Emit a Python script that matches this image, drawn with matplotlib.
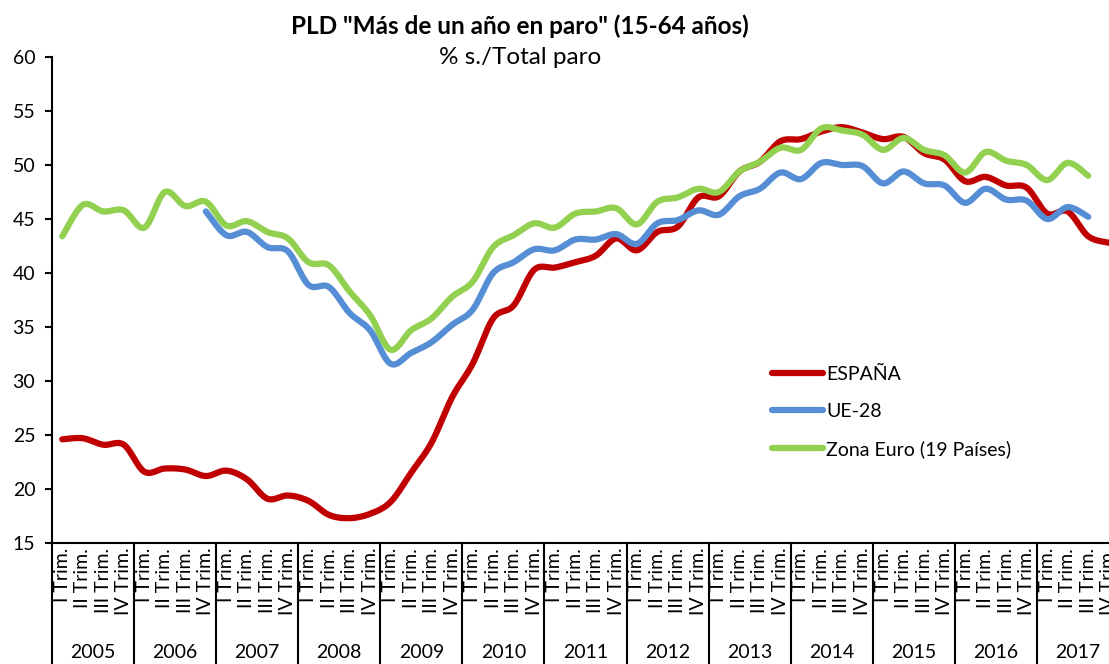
import numpy as np
import matplotlib.pyplot as plt
from matplotlib.transforms import blended_transform_factory

plt.rcParams['font.family'] = ['Lato', 'DejaVu Sans']

years = [str(y) for y in range(2005, 2018)]
quarters = ["I Trim.", "II Trim.", "III Trim.", "IV Trim."]

# % parados de larga duración sobre total parados, 2005 T1 .. 2017 T4
espana = [24.6, 24.7, 24.1, 24.1,
          21.6, 21.9, 21.8, 21.2,
          21.7, 20.9, 19.1, 19.4,
          18.9, 17.6, 17.3, 17.7,
          18.8, 21.5, 24.3, 28.5,
          31.6, 35.8, 37.0, 40.3,
          40.5, 41.0, 41.6, 43.2,
          42.1, 43.8, 44.3, 47.0,
          47.1, 49.4, 50.3, 52.2,
          52.4, 53.1, 53.5, 53.0,
          52.4, 52.6, 51.1, 50.5,
          48.5, 48.9, 48.1, 47.9,
          45.5, 45.7, 43.4, 42.8]
ue28 = [np.nan, np.nan, np.nan, np.nan,
        np.nan, np.nan, np.nan, 45.7,
        43.5, 43.8, 42.4, 42.0,
        38.9, 38.7, 36.3, 34.7,
        31.6, 32.6, 33.6, 35.2,
        36.6, 40.0, 41.0, 42.2,
        42.1, 43.1, 43.1, 43.6,
        42.7, 44.6, 44.9, 45.8,
        45.4, 47.1, 47.8, 49.3,
        48.7, 50.2, 50.0, 49.9,
        48.3, 49.4, 48.3, 48.1,
        46.5, 47.8, 46.8, 46.7,
        45.0, 46.1, 45.2, np.nan]
zona_euro = [43.4, 46.3, 45.7, 45.8,
             44.2, 47.5, 46.2, 46.6,
             44.4, 44.8, 43.8, 43.2,
             41.0, 40.7, 38.3, 36.1,
             32.9, 34.7, 35.8, 37.8,
             39.2, 42.4, 43.5, 44.6,
             44.2, 45.5, 45.7, 46.0,
             44.5, 46.6, 47.0, 47.8,
             47.5, 49.4, 50.3, 51.6,
             51.4, 53.4, 53.2, 52.8,
             51.4, 52.5, 51.4, 50.9,
             49.3, 51.2, 50.4, 50.0,
             48.6, 50.2, 49.0, np.nan]


def smooth_line(ys, steps=20):
    # curva suavizada tipo Excel (bezier con puntos de control catmull-rom)
    ys = np.asarray(ys, dtype=float)
    xs = np.arange(len(ys), dtype=float)
    m = ~np.isnan(ys)
    P = np.column_stack([xs[m], ys[m]])
    out = []
    for k in range(len(P) - 1):
        p0 = P[k - 1] if k > 0 else P[k]
        p1, p2 = P[k], P[k + 1]
        p3 = P[k + 2] if k + 2 < len(P) else P[k + 1]
        c1 = p1 + (p2 - p0) / 6
        c2 = p2 - (p3 - p1) / 6
        t = np.linspace(0, 1, steps, endpoint=(k == len(P) - 2))[:, None]
        out.append((1 - t)**3 * p1 + 3 * (1 - t)**2 * t * c1
                   + 3 * (1 - t) * t**2 * c2 + t**3 * p2)
    pts = np.vstack(out)
    return pts[:, 0], pts[:, 1]


W, H = 1109, 664
fig = plt.figure(figsize=(W / 100, H / 100), dpi=100)
ax = fig.add_axes([52 / W, 1 - 543 / H, 1067 / W, 486 / H])

series = [("ESPAÑA", espana, "#C00000"),
          ("UE-28", ue28, "#558ED5"),
          ("Zona Euro (19 Países)", zona_euro, "#92D050")]
for name, vals, col in series:
    x, y = smooth_line(vals)
    ax.plot(x, y, color=col, lw=4.5, solid_capstyle='round', label=name)

ax.set_xlim(-0.5, 51.5)
ax.set_ylim(15, 60)
ax.set_yticks(range(15, 61, 5))
ax.set_xticks([])
ax.tick_params(axis='y', direction='out', length=5, width=1.5, labelsize=14, pad=7)
for s in ['top', 'right']:
    ax.spines[s].set_visible(False)
for s in ['left', 'bottom']:
    ax.spines[s].set_linewidth(1.5)
    ax.spines[s].set_color('black')

trans = blended_transform_factory(ax.transData, ax.transAxes)
for i in range(len(espana)):
    ax.text(i, -0.01, quarters[i % 4], transform=trans, rotation=90,
            ha='center', va='top', fontsize=14)
for k, yr in enumerate(years):
    ax.text(4 * k + 1.5, -0.226, yr, transform=trans, ha='center', va='center',
            fontsize=14)
for k in range(len(years) + 1):
    ax.plot([4 * k - 0.5] * 2, [0, -0.3], transform=trans, color='black',
            lw=1.5, clip_on=False)

fig.text(520 / W, 1 - 26 / H, 'PLD "Más de un año en paro" (15-64 años)',
         ha='center', va='center', fontsize=17.5, fontweight='bold')
fig.text(520 / W, 1 - 58 / H, '% s./Total paro', ha='center', va='center',
         fontsize=17.5)

ax.legend(loc='upper left', bbox_to_anchor=(772 / W, 1 - 366 / H),
          bbox_transform=fig.transFigure, frameon=False, fontsize=14,
          handlelength=2.6, handletextpad=0.2, labelspacing=1.03,
          borderpad=0, borderaxespad=0)

fig.savefig("out.png", dpi=100)
